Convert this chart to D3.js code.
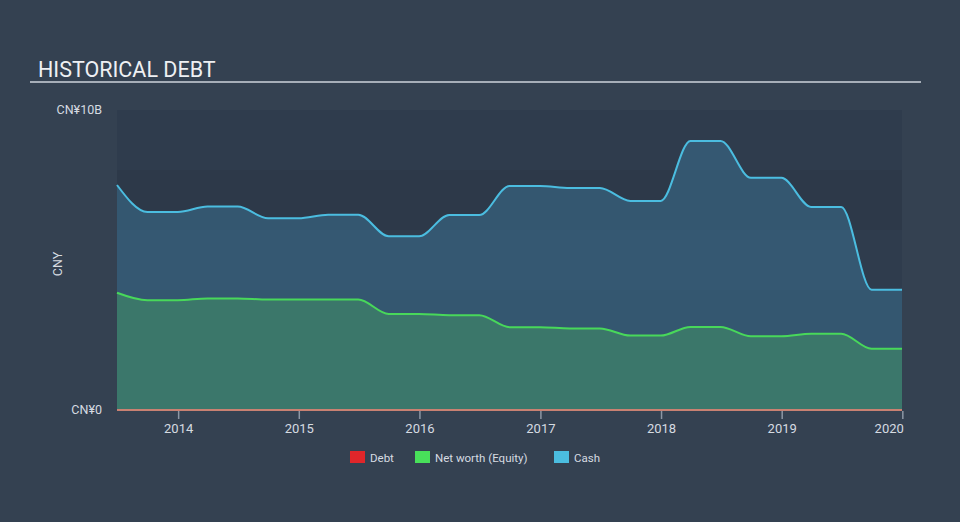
<!DOCTYPE html>
<html><head><meta charset="utf-8">
<script src="https://cdn.jsdelivr.net/npm/d3@7"></script>
<style>
html,body{margin:0;padding:0;background:#344151;}
svg{display:block;font-family:Roboto,"Noto Sans",sans-serif;}
</style></head>
<body><svg id="c" width="960" height="522"></svg>
<script>
const dates = ["2013-06-30","2013-09-30","2013-12-31","2014-03-31","2014-06-30","2014-09-30","2014-12-31",
"2015-03-31","2015-06-30","2015-09-30","2015-12-31","2016-03-31","2016-06-30","2016-09-30","2016-12-31",
"2017-03-31","2017-06-30","2017-09-30","2017-12-31","2018-03-31","2018-06-30","2018-09-30","2018-12-31",
"2019-03-31","2019-06-30","2019-09-30","2019-12-31"];
const cash = [7.5,6.6,6.6,6.78,6.78,6.39,6.39,6.51,6.51,5.79,5.79,6.5,6.5,7.47,7.47,7.4,7.4,6.97,6.97,8.97,8.97,7.74,7.74,6.77,6.77,4.01,4.01];
const equity = [3.91,3.66,3.66,3.72,3.72,3.68,3.68,3.68,3.68,3.2,3.2,3.16,3.16,2.76,2.76,2.72,2.72,2.48,2.48,2.77,2.77,2.46,2.46,2.54,2.54,2.04,2.04];
const debt = [0,0,0,0,0,0,0,0,0,0,0,0,0,0,0,0,0,0,0,0,0,0,0,0,0,0,0];
const yTicks = [0,10];
const yTickLabels = ["CN¥0","CN¥10B"];
const xTickYears = [2014,2015,2016,2017,2018,2019,2020];
const legendItems = [["Debt","#e0262a"],["Net worth (Equity)","#48e05a"],["Cash","#4bbde0"]];

const parse = d3.timeParse("%Y-%m-%d");
const data = dates.map((d,i)=>({date:parse(d),cash:cash[i],equity:equity[i],debt:debt[i]}));

const svg = d3.select("#c");
const L=117,R=902,T=110,B=410;
const x = d3.scaleTime().domain([parse("2013-06-30"),parse("2019-12-31")]).range([L,R]);
const y = d3.scaleLinear().domain([0,10]).range([B,T]);

// title
svg.append("text").attr("x",38).attr("y",77).attr("fill","#eef0f3").attr("font-size",21.5).text("HISTORICAL DEBT");
svg.append("rect").attr("x",30).attr("y",81).attr("width",891).attr("height",2).attr("fill","#a6aeb8");

// plot bands
const bands=[0,2,4,6,8];
svg.selectAll("rect.band").data(bands).enter().append("rect")
 .attr("x",L).attr("width",R-L).attr("y",d=>y(d+2)).attr("height",d=>y(d)-y(d+2))
 .attr("fill",(d,i)=>i%2===0?"#2f3c4d":"#2d3949");

const curve = d3.curveMonotoneX;
const areaCash = d3.area().x(d=>x(d.date)).y0(B).y1(d=>y(d.cash)).curve(curve);
const areaEq = d3.area().x(d=>x(d.date)).y0(B).y1(d=>y(d.equity)).curve(curve);
svg.append("path").datum(data).attr("d",areaCash).attr("fill","#3f80a8").attr("fill-opacity",0.42);
svg.append("path").datum(data).attr("d",areaEq).attr("fill","#3e8468").attr("fill-opacity",0.7);
const lineCash = d3.line().x(d=>x(d.date)).y(d=>y(d.cash)).curve(curve);
const lineEq = d3.line().x(d=>x(d.date)).y(d=>y(d.equity)).curve(curve);
const lineDebt = d3.line().x(d=>x(d.date)).y(d=>y(d.debt)).curve(curve);
svg.append("path").datum(data).attr("d",lineCash).attr("fill","none").attr("stroke","#4bbde0").attr("stroke-width",2);
svg.append("path").datum(data).attr("d",lineEq).attr("fill","none").attr("stroke","#48d85a").attr("stroke-width",2);
svg.append("path").datum(data).attr("d",lineDebt).attr("fill","none").attr("stroke","#c98172").attr("stroke-width",2);

// x axis
const xa = svg.append("g").attr("transform",`translate(0,${B+1})`)
 .call(d3.axisBottom(x).tickValues(xTickYears.map(yy=>new Date(yy,0,1))).tickFormat(d3.timeFormat("%Y")).tickSize(8).tickPadding(5));
xa.select(".domain").remove();
xa.selectAll("line").attr("stroke","#8d97a5").attr("stroke-width",1.5);
xa.selectAll("text").attr("fill","#d6dbe1").attr("font-size",13).attr("font-family","Roboto,sans-serif");
xa.selectAll(".tick").filter((d,i,n)=>i===n.length-1).select("text").attr("text-anchor","end").attr("dx",1);

// y labels
svg.selectAll("text.yl").data(yTicks).enter().append("text")
 .attr("x",102).attr("y",d=>y(d)+4).attr("text-anchor","end").attr("fill","#d6dbe1").attr("font-size",12.5)
 .text((d,i)=>yTickLabels[i]);
svg.append("text").attr("transform","translate(62,264) rotate(-90)").attr("text-anchor","middle")
 .attr("fill","#d6dbe1").attr("font-size",12.5).text("CNY");

// legend
const lx=[350,415,554];
const lg = svg.selectAll("g.lg").data(legendItems).enter().append("g").attr("transform",(d,i)=>`translate(${lx[i]},451)`);
lg.append("rect").attr("width",15).attr("height",12).attr("fill",d=>d[1]);
lg.append("text").attr("x",20).attr("y",11).attr("fill","#d6dbe1").attr("font-size",11.5).text(d=>d[0]);
</script></body></html>
